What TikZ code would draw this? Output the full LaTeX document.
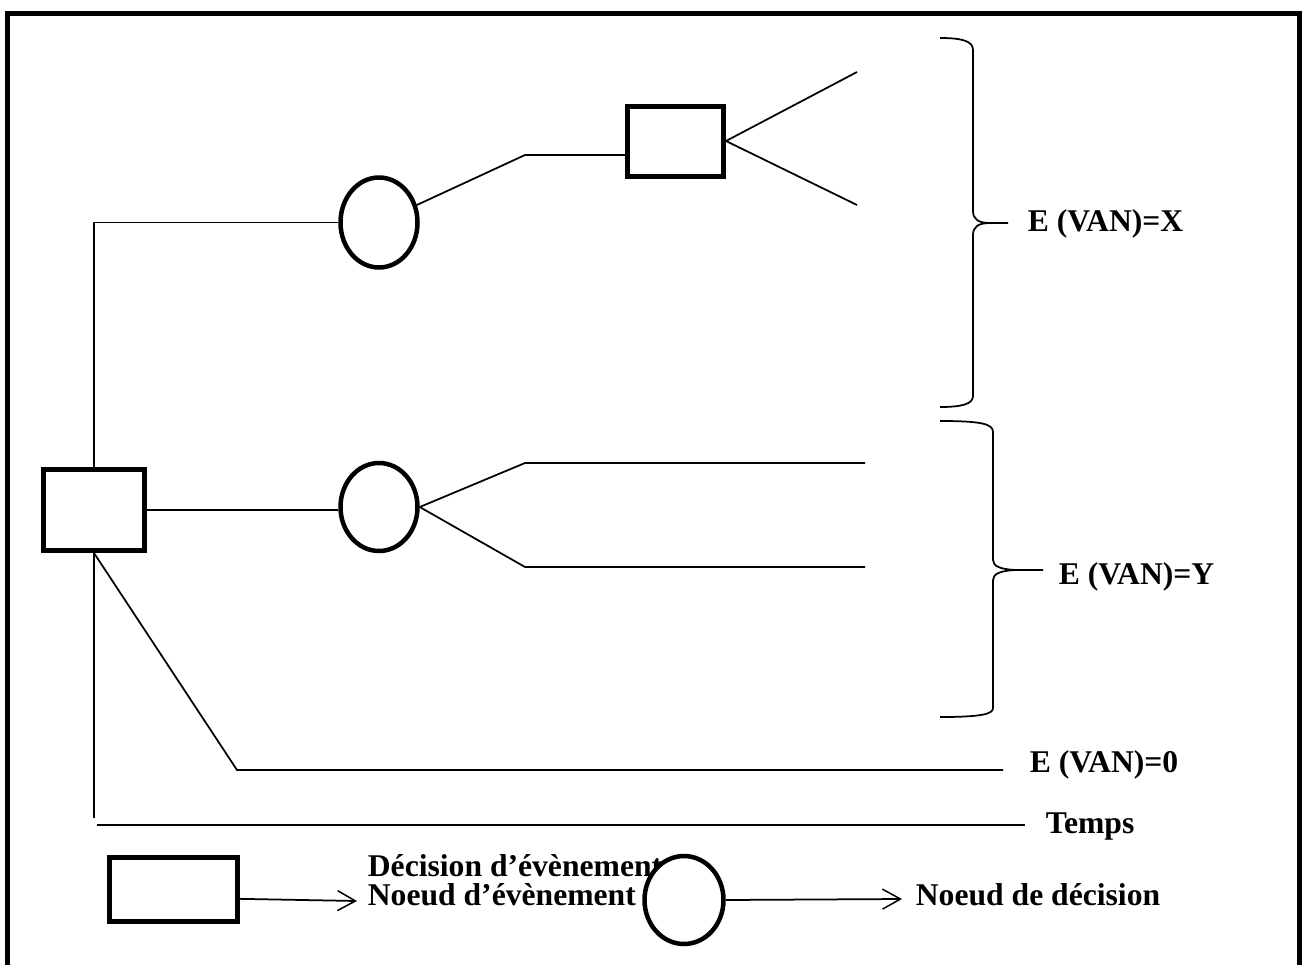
\documentclass[tikz,border=0pt]{standalone}
\usepackage{fontspec}
\setmainfont{Liberation Serif}
\usetikzlibrary{positioning, arrows.meta, shapes.geometric}
\tikzset{
  arbre/.style={x=0.2mm, y=-0.2mm, line width=0.35mm},
  decision/.style={draw, line width=1mm, rectangle, inner sep=0pt},
  evenement/.style={draw, line width=0.9mm, ellipse, inner sep=0pt, fill=white},
  lbl/.style={font=\fontsize{18}{18}\selectfont\bfseries, inner sep=0pt},
  arr/.style={-{Straight Barb[length=3.6mm, width=4mm, line width=0.3mm]}},
  cadre/.style={line width=1mm},
}

\begin{document}
\begin{tikzpicture}[
  arbre,
]
\useasboundingbox (0,0) rectangle (1303,965);
\draw[cadre] (7.5,965) |- (1299.5,13.5) -- (1299.5,965);

\node[decision, minimum width=20.2mm, minimum height=16.2mm] (dec) at (94,510) {};
\node[evenement, minimum width=15.4mm, minimum height=18mm] (ev1) at (379,222.5) {};
\node[evenement, minimum width=15.4mm, minimum height=17.6mm] (ev2) at (379,507) {};
\node[decision, minimum width=19.2mm, minimum height=14mm] (dec2) at (675.5,141) {};

\coordinate (c1) at (525,155);
\coordinate (b1) at (857,72);
\coordinate (b2) at (857,205);
\coordinate (c2) at (525,463);
\coordinate (e2) at (865,463);
\coordinate (c3) at (525,567);
\coordinate (e3) at (865,567);
\coordinate (c4) at (237,770);
\coordinate (e4) at (1003,770);
\coordinate (t0) at (94,818);
\coordinate (t1) at (97,825);
\coordinate (t2) at (1025,825);

\draw (dec.north) |- (ev1.west);
\draw (dec.east) -- (dec.east -| ev2.west);
\draw (ev1) -- (c1) -- (c1 -| dec2.west);
\draw (dec2.east) -- (b1);
\draw (dec2.east) -- (b2);
\draw (ev2.east) -- (c2) -- (e2);
\draw (ev2.east) -- (c3) -- (e3);
\draw (dec.south) -- (c4) -- (e4);
\draw (dec.south) -- (t0);
\draw (t1) -- (t2);

\draw (940,38) .. controls (962,38) and (973,41) .. (973,50) -- (973,211)
  .. controls (973,219) and (978,223) .. (990,223) -- (1008,223);
\draw (990,223) .. controls (978,223) and (973,227) .. (973,235) -- (973,396)
  .. controls (973,404) and (962,407) .. (940,407);
\draw (940,421) .. controls (982,421) and (993,424) .. (993,432) -- (993,560)
  .. controls (993,566) and (1000,570) .. (1020,570) -- (1043,570);
\draw (1020,570) .. controls (1000,570) and (993,574) .. (993,580) -- (993,708)
  .. controls (993,714) and (982,717) .. (940,717);

\node[lbl, anchor=base west] (lX) at (1027,231) {E (VAN)=X};
\node[lbl, anchor=base west] (lY) at (1058,584) {E (VAN)=Y};
\node[lbl, anchor=base west] (l0) at (1029,772) {E (VAN)=0};
\node[lbl, anchor=base west] (lT) at (1045,833) {Temps};

\node[decision, minimum width=25.6mm, minimum height=12.8mm] (ldec) at (173.5,889.5) {};
\node[lbl, font=\fontsize{18}{16}\selectfont\bfseries, align=left, anchor=base west] (tdec) at (367,905) {Décision d’évènement\\Noeud d’évènement};
\node[evenement, minimum width=15.8mm, minimum height=17.6mm] (lev) at (684,900) {};
\node[lbl, anchor=base west] (tnd) at (915,905) {Noeud de décision};
\coordinate (a1) at (357,901);
\coordinate (a2) at (902,899);
\draw[arr] (ldec.-8.5) -- (a1);
\draw[arr] (lev.east) -- (a2);
\end{tikzpicture}
\end{document}
